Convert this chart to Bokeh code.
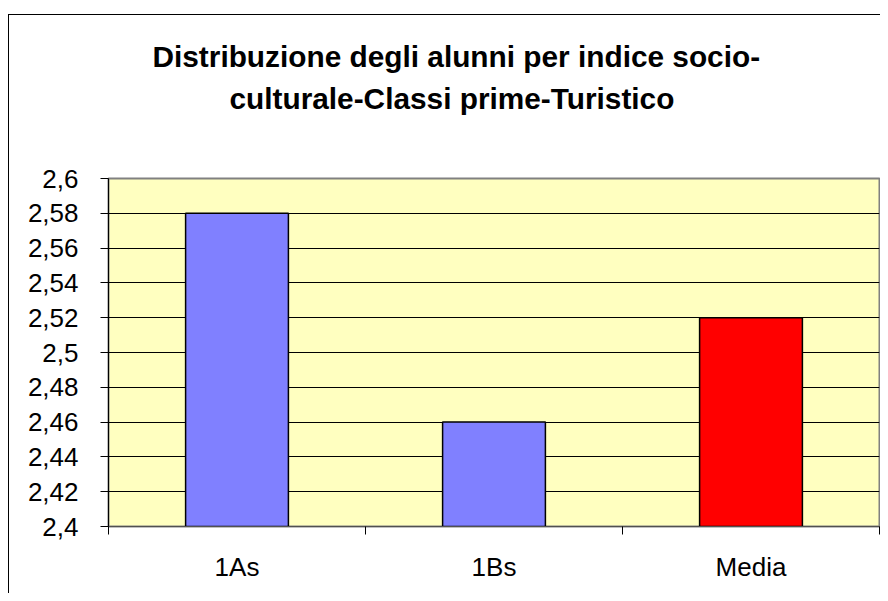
from bokeh.plotting import figure
from bokeh.models import Range1d, FixedTicker, Title, LinearAxis
from bokeh.embed import file_html
from bokeh.resources import INLINE

# ---- data ----
categories = ["1As", "1Bs", "Media"]
values = [2.58, 2.46, 2.52]
bar_colors = ["#8080FF", "#8080FF", "#FF0000"]
y_ticks = [2.4, 2.42, 2.44, 2.46, 2.48, 2.5, 2.52, 2.54, 2.56, 2.58, 2.6]
y_tick_labels = ["2,4", "2,42", "2,44", "2,46", "2,48", "2,5", "2,52", "2,54", "2,56", "2,58", "2,6"]
title_lines = ["Distribuzione degli alunni per indice socio-",
               "culturale-Classi prime-Turistico"]

FONT = "Liberation Sans"

x_pos = [i + 0.5 for i in range(len(categories))]
x_bounds = [float(i) for i in range(len(categories) + 1)]

p = figure(width=880, height=593, output_backend="svg", toolbar_location=None,
           x_range=Range1d(0, len(categories)),
           y_range=Range1d(y_ticks[0], y_ticks[-1]),
           min_border_left=108, min_border_right=1,
           min_border_top=178, min_border_bottom=67)

p.background_fill_color = "#FFFFC0"
p.border_fill_color = None
# outer chart-area border (left and top edges), drawn as page decoration behind the canvas
p.styles = {
    "background": ("linear-gradient(#000,#000) 8px 14px / 1px 2000px no-repeat, "
                   "linear-gradient(#000,#000) 8px 14px / 2000px 1px no-repeat, #fff")
}
p.outline_line_color = "#808080"
p.outline_line_width = 2

p.vbar(x=x_pos, top=values, bottom=y_ticks[0], width=0.4,
       fill_color=bar_colors, line_color="black", line_width=1.5)

# grid
p.xgrid.visible = False
p.ygrid.ticker = FixedTicker(ticks=y_ticks[1:-1])
p.ygrid.grid_line_color = "black"
p.ygrid.grid_line_width = 1

# y axis
ya = p.yaxis[0]
ya.ticker = FixedTicker(ticks=y_ticks)
ya.major_label_overrides = {t: l for t, l in zip(y_ticks, y_tick_labels)}
ya.major_tick_out = 8
ya.major_tick_in = 0
ya.minor_tick_out = 0
ya.minor_tick_in = 0
ya.axis_line_color = "black"
ya.major_tick_line_color = "black"
ya.major_label_standoff = 22
ya.major_label_text_font = FONT
ya.major_label_text_font_size = "26px"
ya.major_label_text_color = "black"

# x axis
xa = p.xaxis[0]
xa.ticker = FixedTicker(ticks=x_pos, minor_ticks=x_bounds)
xa.major_label_overrides = {t: c for t, c in zip(x_pos, categories)}
xa.major_tick_out = 8
xa.major_tick_in = 0
xa.major_tick_line_color = None
xa.minor_tick_out = 8
xa.minor_tick_in = 0
xa.minor_tick_line_color = "black"
xa.axis_line_color = "#505050"
xa.major_label_standoff = 17
xa.major_label_text_font = FONT
xa.major_label_text_font_size = "26px"
xa.major_label_text_color = "black"

# invisible spacer between plot area and title (one hidden tick, no label, no line)
spacer = LinearAxis(ticker=FixedTicker(ticks=[x_pos[0]]), major_tick_out=60, major_tick_in=0,
                    minor_tick_out=0, minor_tick_in=0, axis_line_color=None,
                    major_tick_line_color=None, minor_tick_line_color=None,
                    major_label_standoff=0, major_label_overrides={x_pos[0]: ""},
                    major_label_text_font_size="1px")
p.add_layout(spacer, "above")

# title (two lines, left-aligned with offsets so each line is centred like the original)
t2 = Title(text=title_lines[1], align="left", offset=121, text_font=FONT,
           text_font_style="bold", text_font_size="29.8px", text_color="black",
           standoff=8)
p.add_layout(t2, "above")

p.title.text = title_lines[0]
p.title.align = "left"
p.title.offset = 44
p.title.text_font = FONT
p.title.text_font_style = "bold"
p.title.text_font_size = "29.8px"
p.title.text_color = "black"
p.title.standoff = 6

open("out.html", "w").write(file_html(p, INLINE))
